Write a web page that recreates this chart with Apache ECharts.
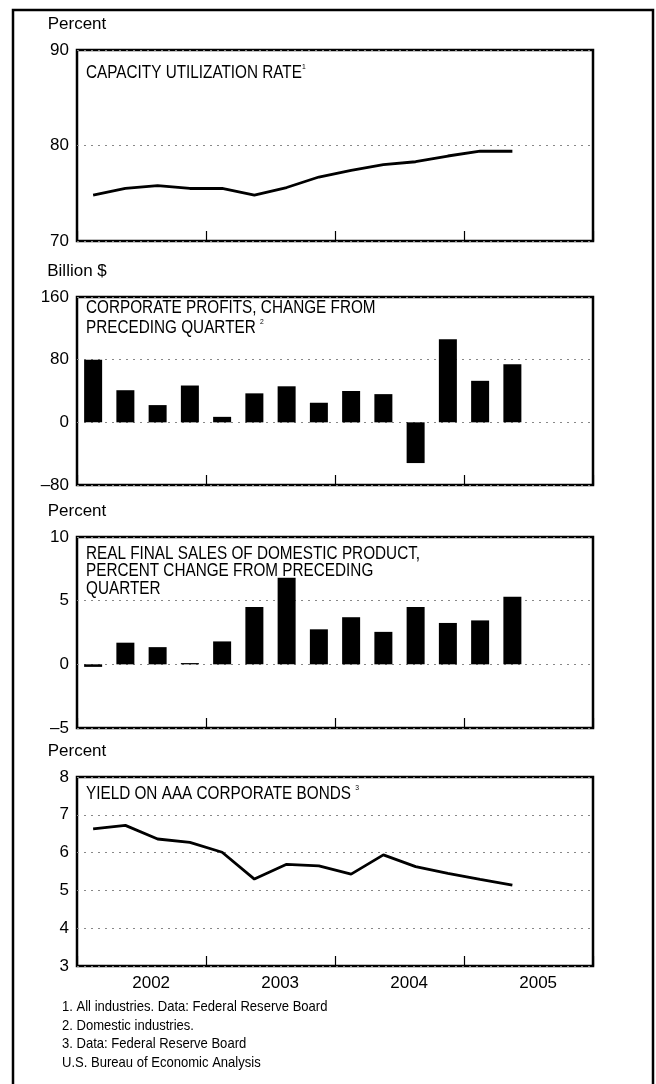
<!DOCTYPE html>
<html>
<head>
<meta charset="utf-8">
<script src="https://cdn.jsdelivr.net/npm/echarts@6/dist/echarts.min.js"></script>
<style>
html,body{margin:0;padding:0;background:#fff;}
#chart{width:656px;height:1084px;}
</style>
</head>
<body>
<div id="chart"></div>
<script>
// Quarterly categories (2002 Q1 – 2005 Q4)
var quarters = ['2002Q1','2002Q2','2002Q3','2002Q4','2003Q1','2003Q2','2003Q3','2003Q4',
                '2004Q1','2004Q2','2004Q3','2004Q4','2005Q1','2005Q2','2005Q3','2005Q4'];
// Capacity utilization rate, percent
var capacityUtil = [74.8, 75.5, 75.8, 75.5, 75.5, 74.8, 75.6, 76.7, 77.4, 78.0, 78.3, 78.9, 79.4, 79.4];
// Corporate profits, change from preceding quarter, billion $
var profitsChange = [80, 41, 22, 47, 7, 37, 46, 25, 40, 36, -52, 106, 53, 74];
// Real final sales of domestic product, percent change
var realFinalSales = [-0.2, 1.7, 1.35, 0.1, 1.8, 4.5, 6.8, 2.75, 3.7, 2.55, 4.5, 3.25, 3.45, 5.3];
// Yield on AAA corporate bonds, percent
var aaaYield = [6.63, 6.72, 6.36, 6.27, 6.01, 5.30, 5.69, 5.65, 5.43, 5.94, 5.63, 5.45, 5.29, 5.14];

var panelTitles = [
  '{t|CAPACITY UTILIZATION RATE}{s|1}',
  '{t|CORPORATE PROFITS, CHANGE FROM}\n{t|PRECEDING QUARTER }{s|2}',
  '{t|REAL FINAL SALES OF DOMESTIC PRODUCT,}\n{t|PERCENT CHANGE FROM PRECEDING}\n{t|QUARTER}',
  '{t|YIELD ON AAA CORPORATE BONDS }{s|3}'
];
var unitNames = ['Percent', 'Billion $', 'Percent', 'Percent'];
var footnotes = [
  '1. All industries. Data: Federal Reserve Board',
  '2. Domestic industries.',
  '3. Data: Federal Reserve Board',
  'U.S. Bureau of Economic Analysis'
];

var SANS = '"Liberation Sans", Arial, Helvetica, sans-serif';

var grids = [
  {left: 77, width: 516, top: 50, height: 191},
  {left: 77, width: 516, top: 297, height: 188},
  {left: 77, width: 516, top: 537, height: 191},
  {left: 77, width: 516, top: 777, height: 189}
];
grids.forEach(function(g){ g.show = true; g.borderColor = '#000'; g.borderWidth = 2.5; g.backgroundColor = 'transparent'; });

var yRanges = [[70, 90, 10], [-80, 160, 80], [-5, 10, 5], [3, 8, 1]];

var xAxes = grids.map(function(g, i){
  return {
    type: 'category', gridIndex: i, data: quarters, boundaryGap: true,
    axisLine: {show: false, onZero: false},
    axisTick: {show: true, inside: true, length: 10,
      interval: function(idx){ return idx % 4 === 0; },
      lineStyle: {color: '#000', width: 1.2}},
    axisLabel: {show: i === 3, color: '#000', fontFamily: SANS, fontSize: 17, margin: 9,
      padding: [0, 13, 0, 0],
      interval: function(idx){ return idx % 4 === 2; },
      formatter: function(v){ return v.slice(0, 4); }},
    splitLine: {show: false}
  };
});

var yAxes = grids.map(function(g, i){
  return {
    type: 'value', gridIndex: i, min: yRanges[i][0], max: yRanges[i][1], interval: yRanges[i][2],
    name: unitNames[i], nameLocation: 'end', nameGap: 17,
    nameTextStyle: {color: '#000', fontFamily: SANS, fontSize: 17, align: 'center'},
    axisLine: {show: false}, axisTick: {show: false},
    axisLabel: {color: '#000', fontFamily: SANS, fontSize: 17, margin: 8,
      formatter: function(v){ return String(v).replace('-', '\u2013'); }},
    splitLine: {show: true, lineStyle: {color: '#888', type: [2, 5], width: 1}}
  };
});

var graphics = [
  {type: 'rect', shape: {x: 13, y: 10, width: 640, height: 1100}, style: {fill: 'none', stroke: '#000', lineWidth: 2.5}, silent: true}
];
// panel titles (condensed look via horizontal scaling)
var titleTops = [63, 298, 545, 784];
var titleLH = [20, 20, 17.5, 20];
panelTitles.forEach(function(t, i){
  graphics.push({type: 'text', x: 86, y: titleTops[i], scaleX: 0.85, silent: true,
    style: {text: t, fill: '#000',
      rich: {
        t: {fontFamily: SANS, fontSize: 18, fontWeight: 'normal', fill: '#000', lineHeight: titleLH[i]},
        s: {fontFamily: SANS, fontSize: 8, fontWeight: 'normal', fill: '#000', verticalAlign: 'top', lineHeight: titleLH[i]}
      }}});
});
var fnY = [1007, 1026, 1044, 1063];
footnotes.forEach(function(f, i){
  graphics.push({type: 'text', x: 62, y: fnY[i], scaleX: 0.87, silent: true,
    style: {text: f, fill: '#000', font: '15px ' + SANS, verticalAlign: 'middle'}});
});

var option = {
  animation: false,
  backgroundColor: '#fff',
  grid: grids,
  xAxis: xAxes,
  yAxis: yAxes,
  graphic: graphics,
  series: [
    {type: 'line', xAxisIndex: 0, yAxisIndex: 0, data: capacityUtil, symbol: 'none',
     lineStyle: {color: '#000', width: 2.8}},
    {type: 'bar', xAxisIndex: 1, yAxisIndex: 1, data: profitsChange, barWidth: 18,
     itemStyle: {color: '#000'}},
    {type: 'bar', xAxisIndex: 2, yAxisIndex: 2, data: realFinalSales, barWidth: 18,
     itemStyle: {color: '#000'}},
    {type: 'line', xAxisIndex: 3, yAxisIndex: 3, data: aaaYield, symbol: 'none',
     lineStyle: {color: '#000', width: 2.8}}
  ]
};
var chart = echarts.init(document.getElementById('chart'), null, {renderer: 'canvas'});
chart.setOption(option);
</script>
</body>
</html>
